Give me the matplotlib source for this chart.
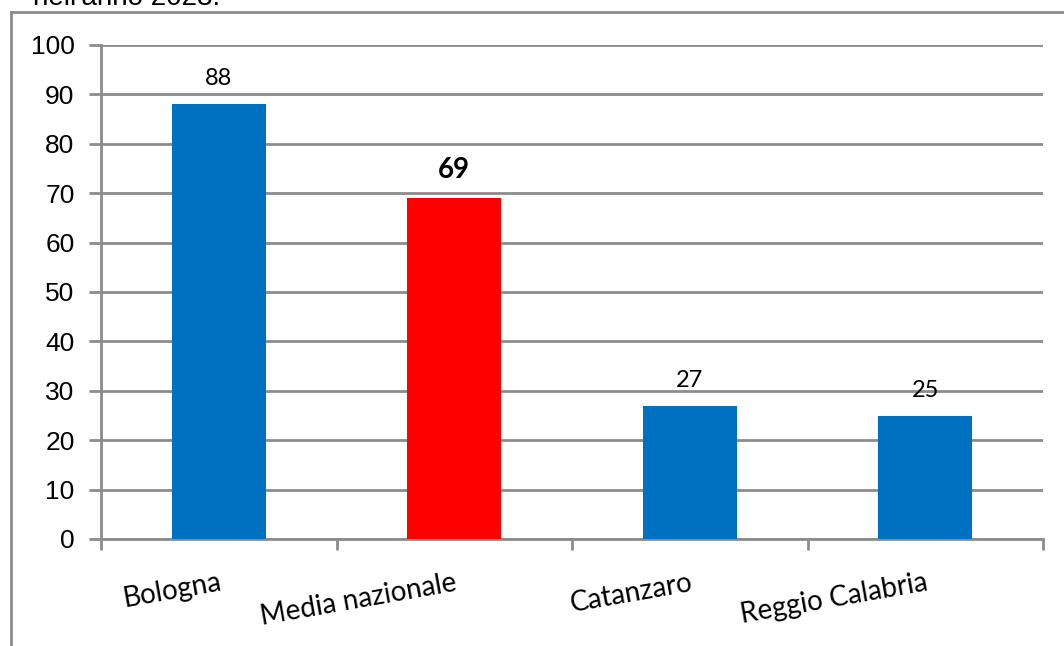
import matplotlib
matplotlib.use("Agg")
import matplotlib.pyplot as plt
from matplotlib.lines import Line2D

# data
categories = ["Bologna", "Media nazionale", "Catanzaro", "Reggio Calabria"]
values = [88, 69, 27, 25]
bar_colors = ["#0070C0", "#FF0000", "#0070C0", "#0070C0"]
label_bold = [False, True, False, False]
y_ticks = [0, 10, 20, 30, 40, 50, 60, 70, 80, 90, 100]

W, H = 1064, 646
fig = plt.figure(figsize=(W / 100, H / 100), dpi=100)
ax = fig.add_axes([101 / W, 1 - 539 / H, (1043 - 101) / W, (539 - 45) / H])

grey = "#8c8c8c"
x = list(range(len(categories)))
ax.bar(x, values, width=0.4, color=bar_colors, zorder=3)

for xi, v, b in zip(x, values, label_bold):
    if b:
        ax.text(xi, v + 3, str(v), ha="center", va="bottom", fontsize=20,
                fontweight="bold", family="Lato", color="black")
    else:
        ax.text(xi, v + 3, str(v), ha="center", va="bottom", fontsize=17,
                family="Lato", color="black")

ax.set_xlim(-0.5, len(categories) - 0.5)
ax.set_ylim(0, 100)
ax.set_yticks(y_ticks)
ax.set_yticklabels([str(t) for t in y_ticks], fontsize=19, family="Liberation Sans")
ax.yaxis.grid(True, color=grey, linewidth=2, zorder=0)
ax.set_axisbelow(True)

# category boundary ticks on x axis, names under the bars
ax.set_xticks([i - 0.5 for i in range(len(categories) + 1)], minor=False)
ax.set_xticklabels([])
ax.set_xticks(x, minor=True)
ax.set_xticklabels(categories, minor=True, fontsize=20, family="Lato", rotation=10,
                   rotation_mode="anchor", ha="right", va="top")
ax.tick_params(axis="x", which="minor", length=0, pad=22)
ax.tick_params(axis="x", which="major", length=8, width=2, color=grey)
ax.tick_params(axis="y", length=9, width=2, color=grey, pad=10)

for s in ["top", "right"]:
    ax.spines[s].set_visible(False)
for s in ["left", "bottom"]:
    ax.spines[s].set_color(grey)
    ax.spines[s].set_linewidth(2)

# outer frame of the embedded chart
fig.add_artist(Line2D([11 / W, 11 / W], [0, 1 - 12 / H], color=grey, linewidth=2))
fig.add_artist(Line2D([11 / W, 1], [1 - 12 / H, 1 - 12 / H], color=grey, linewidth=2))

# caption cut off at the top of the image
fig.text(33 / W, 1 - 5 / H, "nell'anno 2023.", fontsize=20, family="Liberation Sans",
         va="baseline", ha="left")

fig.savefig("out.png", dpi=100)
